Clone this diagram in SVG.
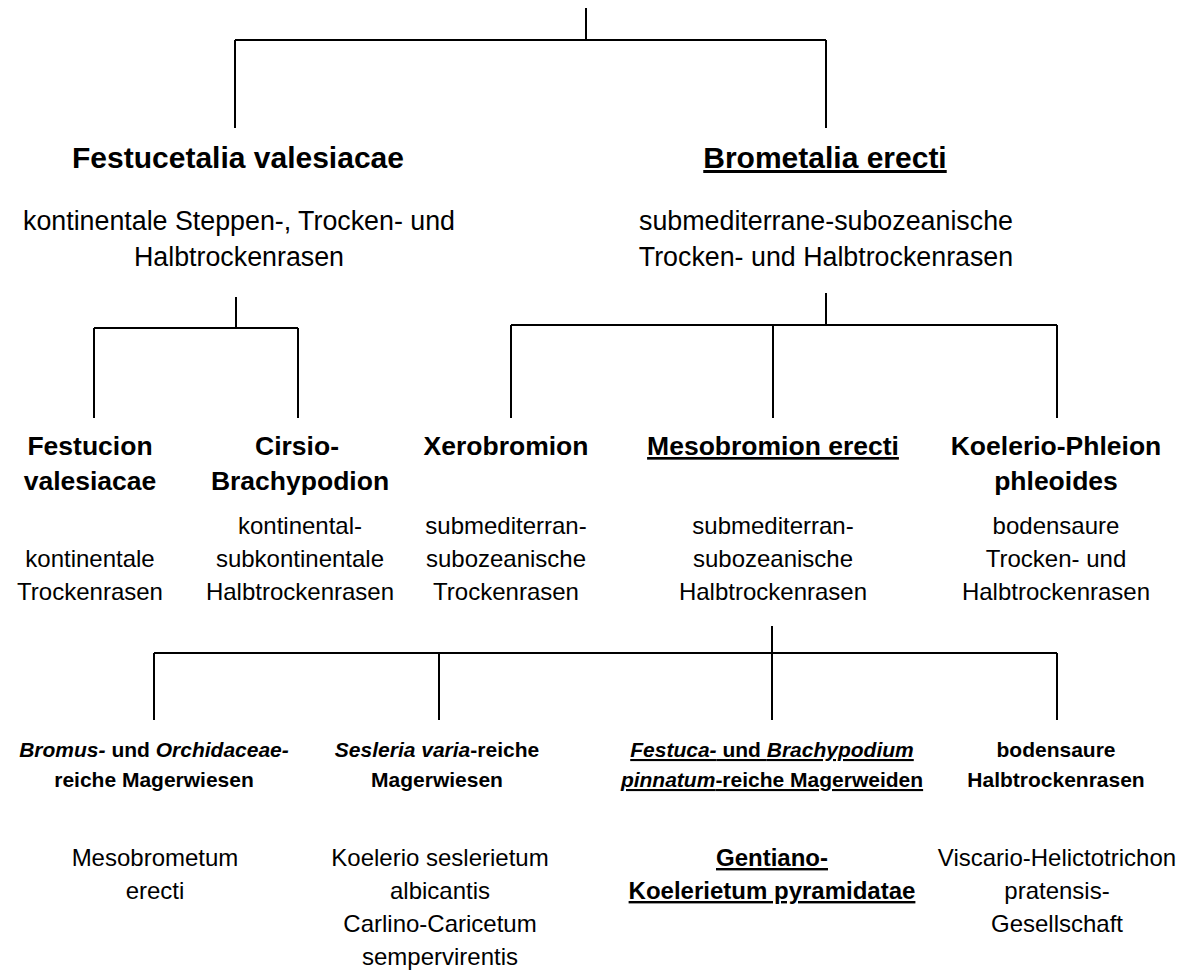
<svg xmlns="http://www.w3.org/2000/svg" width="1181" height="975" viewBox="0 0 1181 975">
  <style>
    text { font-family: "Liberation Sans", Arial, sans-serif; fill: #000; text-anchor: middle; }
    .t1 { font-size: 30px; font-weight: bold; }
    .d1 { font-size: 26.8px; }
    .t2 { font-size: 26.5px; font-weight: bold; }
    .d2 { font-size: 24px; }
    .t3 { font-size: 21px; font-weight: bold; }
    .n3 { font-size: 24px; }
    .nb { font-size: 24px; font-weight: bold; }
    .u { text-decoration: underline; }
    .i { font-style: italic; }
    .conn { fill: none; stroke: #000; stroke-width: 2; }
  </style>
  <rect width="1181" height="975" fill="#fff"/>

  <g id="connectors" class="conn">
    <path d="M586 8V40M235 40H826M235 40V128M826 40V128"/>
    <path d="M236 297V328M94 328H298M94 328V418M298 328V418"/>
    <path d="M826 293V325M511 325H1057M511 325V418M773 325V418M1057 325V418"/>
    <path d="M772 626V720M154 653H1057M154 653V720M439 653V720M1057 653V720"/>
  </g>

  <g id="festucetalia">
    <text class="t1" x="238" y="168">Festucetalia valesiacae</text>
    <text class="d1" x="239" y="230">kontinentale Steppen-, Trocken- und</text>
    <text class="d1" x="239" y="266">Halbtrockenrasen</text>
  </g>

  <g id="brometalia">
    <text class="t1 u" x="825" y="168">Brometalia erecti</text>
    <text class="d1" x="826" y="230">submediterrane-subozeanische</text>
    <text class="d1" x="826" y="266">Trocken- und Halbtrockenrasen</text>
  </g>

  <g id="festucion">
    <text class="t2" x="90" y="455">Festucion</text>
    <text class="t2" x="90" y="490">valesiacae</text>
    <text class="d2" x="90" y="567">kontinentale</text>
    <text class="d2" x="90" y="600">Trockenrasen</text>
  </g>

  <g id="cirsio">
    <text class="t2" x="297" y="455">Cirsio-</text>
    <text class="t2" x="300" y="490">Brachypodion</text>
    <text class="d2" x="300" y="534">kontinental-</text>
    <text class="d2" x="300" y="567">subkontinentale</text>
    <text class="d2" x="300" y="600">Halbtrockenrasen</text>
  </g>

  <g id="xerobromion">
    <text class="t2" x="506" y="455">Xerobromion</text>
    <text class="d2" x="506" y="534">submediterran-</text>
    <text class="d2" x="506" y="567">subozeanische</text>
    <text class="d2" x="506" y="600">Trockenrasen</text>
  </g>

  <g id="mesobromion">
    <text class="t2 u" x="773" y="455">Mesobromion erecti</text>
    <text class="d2" x="773" y="534">submediterran-</text>
    <text class="d2" x="773" y="567">subozeanische</text>
    <text class="d2" x="773" y="600">Halbtrockenrasen</text>
  </g>

  <g id="koelerio-phleion">
    <text class="t2" x="1056" y="455">Koelerio-Phleion</text>
    <text class="t2" x="1056" y="490">phleoides</text>
    <text class="d2" x="1056" y="534">bodensaure</text>
    <text class="d2" x="1056" y="567">Trocken- und</text>
    <text class="d2" x="1056" y="600">Halbtrockenrasen</text>
  </g>

  <g id="bromus-orchidaceae">
    <text class="t3" x="154" y="757"><tspan class="i">Bromus-</tspan> und <tspan class="i">Orchidaceae-</tspan></text>
    <text class="t3" x="154" y="787">reiche Magerwiesen</text>
    <text class="n3" x="155" y="866">Mesobrometum</text>
    <text class="n3" x="155" y="899">erecti</text>
  </g>

  <g id="sesleria">
    <text class="t3" x="437" y="757"><tspan class="i">Sesleria varia</tspan>-reiche</text>
    <text class="t3" x="437" y="787">Magerwiesen</text>
    <text class="n3" x="440" y="866">Koelerio seslerietum</text>
    <text class="n3" x="440" y="899">albicantis</text>
    <text class="n3" x="440" y="932">Carlino-Caricetum</text>
    <text class="n3" x="440" y="965">sempervirentis</text>
  </g>

  <g id="festuca-brachypodium">
    <text class="t3 u" x="772" y="757"><tspan class="i">Festuca-</tspan> und <tspan class="i">Brachypodium</tspan></text>
    <text class="t3 u" x="772" y="787"><tspan class="i">pinnatum</tspan>-reiche Magerweiden</text>
    <text class="nb u" x="772" y="866">Gentiano-</text>
    <text class="nb u" x="772" y="899">Koelerietum pyramidatae</text>
  </g>

  <g id="bodensaure">
    <text class="t3" x="1056" y="757">bodensaure</text>
    <text class="t3" x="1056" y="787">Halbtrockenrasen</text>
    <text class="n3" x="1057" y="866">Viscario-Helictotrichon</text>
    <text class="n3" x="1057" y="899">pratensis-</text>
    <text class="n3" x="1057" y="932">Gesellschaft</text>
  </g>
</svg>
